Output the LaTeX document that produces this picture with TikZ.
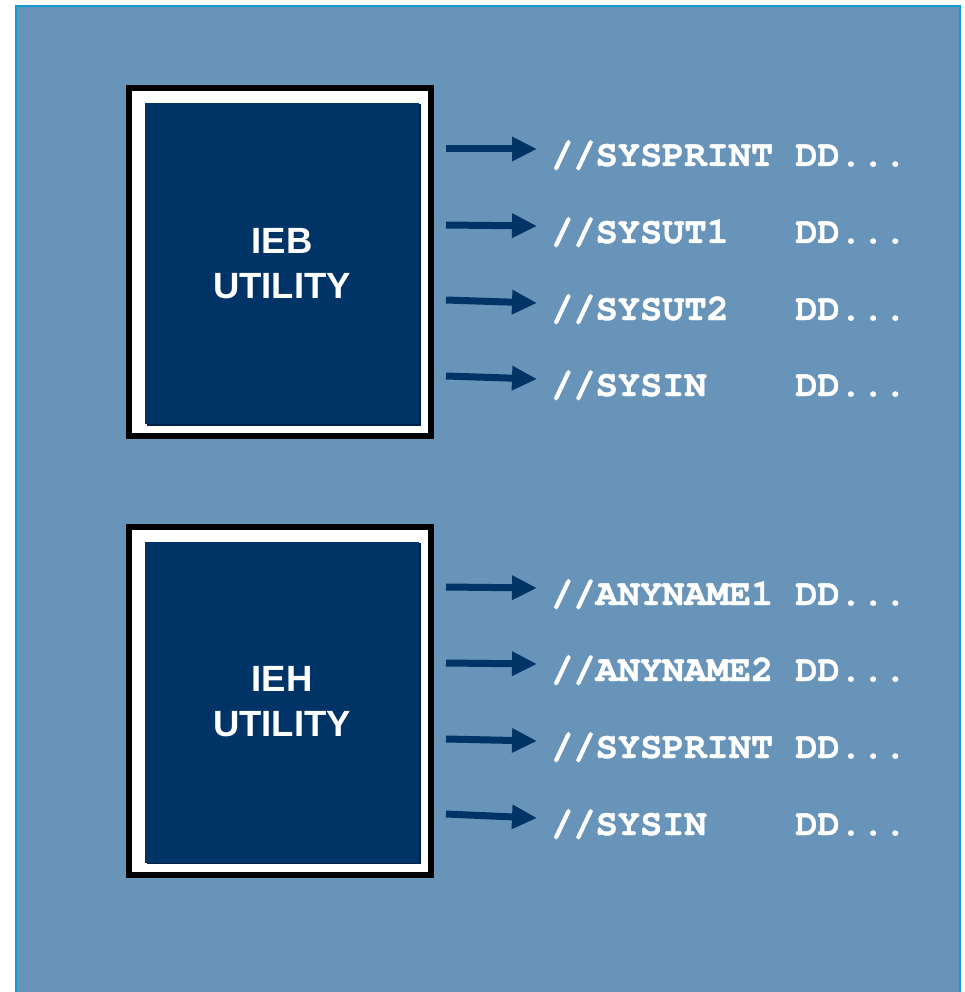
\documentclass[tikz,border=0pt]{standalone}
\usepackage{fontspec}
\setmainfont{Liberation Sans}
\setmonofont{TeX Gyre Cursor}[BoldFeatures={FakeBold=1.2}]
\usetikzlibrary{arrows.meta, positioning, shadows}
\definecolor{panelblue}{RGB}{104, 148, 185}
\definecolor{paneledge}{RGB}{16, 156, 210}
\definecolor{utilnavy}{RGB}{0, 51, 102}
\definecolor{navyshade}{RGB}{0, 32, 70}

\tikzset{
  frame/.style={draw=black, line width=6pt, fill=white,
    minimum width=302pt, minimum height=348pt, inner sep=0pt},
  utilbox/.style={fill=utilnavy, text=white, align=center,
    minimum width=274pt, minimum height=321pt, inner sep=0pt,
    font=\fontsize{36.5}{45}\selectfont\bfseries,
    drop shadow={shadow xshift=1.5pt, shadow yshift=-1.5pt, fill=navyshade, opacity=1}},
  ddline/.style={anchor=west, text=white, inner xsep=14pt, inner ysep=0pt,
    text height=34pt, text depth=0pt,
    font=\fontsize{37}{37}\selectfont\ttfamily\bfseries},
  ddarrow/.style={utilnavy, line width=7pt, -{Triangle[length=25pt, width=23pt]}}
}

\begin{document}
\begin{tikzpicture}[x=1pt, y=-1pt]
\useasboundingbox (0,0) rectangle (965,992);

% Panel
\fill[panelblue] (16,6) rectangle (960,992);
\draw[paneledge, line width=2pt] (16,992) -- (16,6) -- (960,6) -- (960,992);

% IEB utility box
\node[frame] (iebframe) at (280,262) {};
\node[utilbox] (ieb) at (282,263.5) {IEB\\UTILITY};

% IEH utility box
\node[frame] (iehframe) at (280,700.5) {};
\node[utilbox] (ieh) at (282,702) {IEH\\UTILITY};

% DD statements of the IEB utility
\foreach \nm/\txt/\ya/\yb in {
    ebp/{//SYSPRINT~DD...}/149/149,
    ebu/{//SYSUT1~~~DD...}/225/226,
    ebv/{//SYSUT2~~~DD...}/300/303,
    ebi/{//SYSIN~~~~DD...}/376/379} {
  \coordinate (from\nm) at (446,\ya);
  \node[ddline] (dd\nm) at (537,\yb) {\txt};
  \draw[ddarrow] (from\nm) -- (dd\nm.west);
}

% DD statements of the IEH utility
\foreach \nm/\txt/\ya/\yb in {
    eha/{//ANYNAME1~DD...}/587/588,
    ehb/{//ANYNAME2~DD...}/663/664,
    ehp/{//SYSPRINT~DD...}/739/741,
    ehi/{//SYSIN~~~~DD...}/814/818} {
  \coordinate (from\nm) at (446,\ya);
  \node[ddline] (dd\nm) at (537,\yb) {\txt};
  \draw[ddarrow] (from\nm) -- (dd\nm.west);
}

\end{tikzpicture}
\end{document}
